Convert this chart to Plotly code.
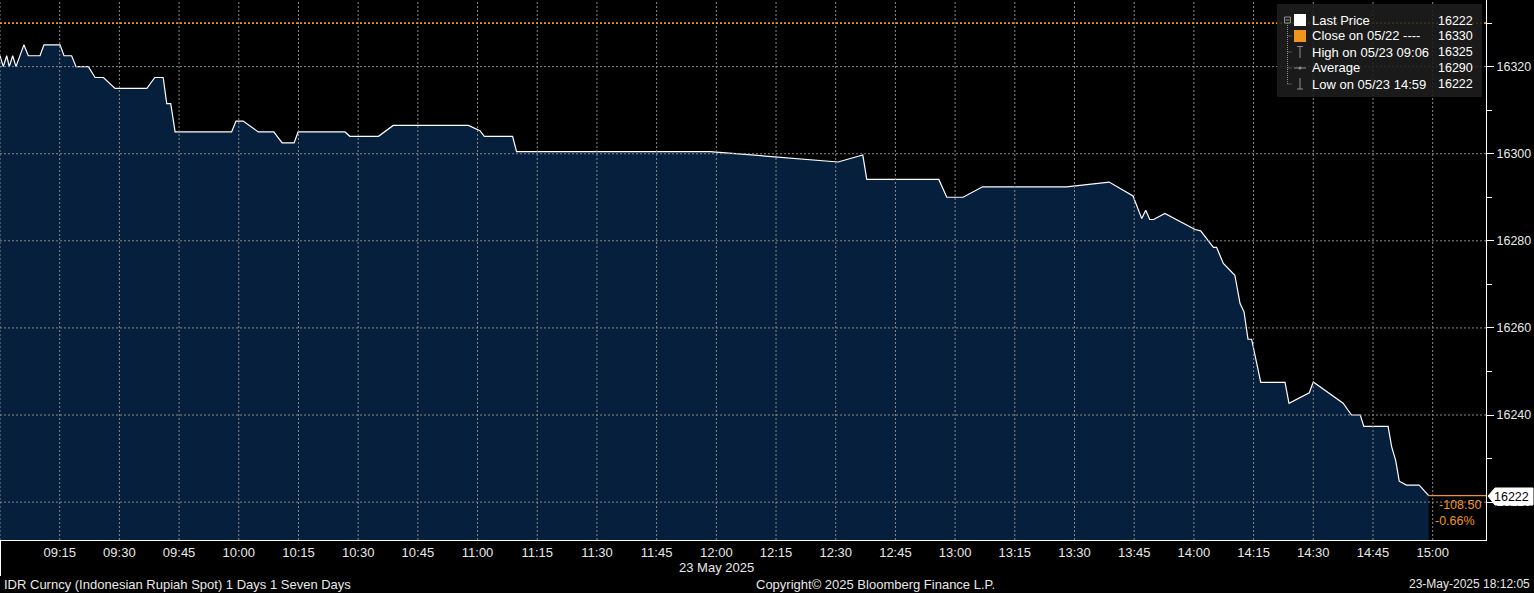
import plotly.graph_objects as go

# ---------------- data ----------------
DAY = "2025-05-23"
times = [
    "09:00:00", "09:00:50", "09:01:41", "09:02:20", "09:03:11", "09:04:01", "09:06:00", "09:07:07",
    "09:10:03", "09:11:03", "09:15:05", "09:16:05", "09:18:00", "09:19:06", "09:22:12", "09:23:54",
    "09:26:00", "09:28:54", "09:36:54", "09:38:54", "09:41:00", "09:41:54", "09:42:54", "09:44:00",
    "09:58:12", "09:59:18", "10:01:06", "10:04:54", "10:08:48", "10:10:54", "10:13:54", "10:14:54",
    "10:26:42", "10:27:54", "10:35:06", "10:38:48", "10:57:42", "11:00:36", "11:01:42", "11:08:48",
    "11:09:48", "11:58:24", "12:30:36", "12:36:48", "12:37:48", "12:55:54", "12:57:54", "13:02:00",
    "13:06:54", "13:28:00", "13:38:42", "13:44:42", "13:46:54", "13:47:54", "13:48:54", "13:49:54",
    "13:52:42", "14:00:18", "14:01:42", "14:04:54", "14:05:42", "14:07:24", "14:10:18", "14:11:36",
    "14:12:36", "14:13:36", "14:14:30", "14:16:48", "14:22:54", "14:23:54", "14:29:00", "14:30:00",
    "14:37:30", "14:39:36", "14:41:48", "14:42:42", "14:48:48", "14:49:42", "14:50:42", "14:51:36",
    "14:53:24", "14:56:36", "14:59:00",
]
prices = [
    16322.5, 16320.0, 16322.5, 16320.0, 16322.5, 16320.0, 16325.0, 16322.5,
    16322.5, 16325.0, 16325.0, 16322.5, 16322.5, 16320.0, 16320.0, 16317.5,
    16317.5, 16315.0, 16315.0, 16317.5, 16317.5, 16311.5, 16311.5, 16305.0,
    16305.0, 16307.5, 16307.5, 16305.0, 16305.0, 16302.5, 16302.5, 16305.0,
    16305.0, 16304.0, 16304.0, 16306.5, 16306.5, 16305.3, 16304.0, 16304.0,
    16300.5, 16300.5, 16298.1, 16299.7, 16294.1, 16294.1, 16290.0, 16290.0,
    16292.4, 16292.4, 16293.5, 16290.3, 16285.1, 16287.0, 16284.9, 16284.9,
    16286.3, 16282.6, 16282.3, 16278.5, 16278.5, 16274.8, 16272.1, 16265.6,
    16263.7, 16257.4, 16257.4, 16247.5, 16247.5, 16242.7, 16245.1, 16247.6,
    16242.7, 16240.0, 16240.0, 16237.4, 16237.4, 16232.7, 16229.6, 16224.8,
    16223.9, 16223.9, 16221.5,
]
prev_close = 16330.0
x_tick_times = ["09:00", "09:15", "09:30", "09:45", "10:00", "10:15", "10:30", "10:45", "11:00",
                "11:15", "11:30", "11:45", "12:00", "12:15", "12:30", "12:45", "13:00", "13:15",
                "13:30", "13:45", "14:00", "14:15", "14:30", "14:45", "15:00"]
y_ticks = [16220, 16240, 16260, 16280, 16300, 16320]
legend_labels = ["Last Price", "Close on 05/22 ----", "High on 05/23 09:06", "Average", "Low on 05/23 14:59"]
legend_values = ["16222", "16330", "16325", "16290", "16222"]
date_label = "23 May 2025"
footer_left = "IDR Curncy (Indonesian Rupiah Spot) 1 Days 1 Seven Days"
footer_mid = "Copyright\u00a9 2025 Bloomberg Finance L.P."
footer_right = "23-May-2025 18:12:05"

# ---------------- layout geometry ----------------
W, H = 1534, 593
ML, MR, MT, MB = 0, 48, 0, 53
PW, PH = W - ML - MR, H - MT - MB


def px(x):
    return (x - ML) / PW


def py(y):
    return 1 - (y - MT) / PH


FONT = "Liberation Sans"
WHITE = "#e8e8e8"
ORANGE = "#f0961e"
GRID = "#8a8a8a"
FILL = "#061f3d"

xs = [f"{DAY} {t}" for t in times]
x_range = [f"{DAY} 09:00:00", f"{DAY} 15:13:24"]
y_range = [16211.3, 16335.3]

fig = go.Figure()
fig.add_trace(go.Scatter(
    x=xs, y=prices, mode="lines", fill="tozeroy", fillcolor=FILL,
    line=dict(color="white", width=1.2), hoverinfo="skip", showlegend=False,
))

shapes = []
# grid (drawn above the fill)
for t in x_tick_times:
    shapes.append(dict(type="line", xref="x", yref="paper", x0=f"{DAY} {t}", x1=f"{DAY} {t}",
                       y0=0, y1=1, line=dict(color=GRID, width=1, dash="2px,2px"), layer="above"))
for v in y_ticks:
    shapes.append(dict(type="line", xref="paper", yref="y", x0=0, x1=1, y0=v, y1=v,
                       line=dict(color=GRID, width=1, dash="2px,2px"), layer="above"))
# previous close line
shapes.append(dict(type="line", xref="paper", yref="y", x0=0, x1=1, y0=prev_close, y1=prev_close,
                   line=dict(color=ORANGE, width=1.8, dash="2px,2px"), layer="above"))
# last price orange marker line
shapes.append(dict(type="line", xref="x", yref="y", x0=xs[-1], x1=x_range[1],
                   y0=prices[-1], y1=prices[-1], line=dict(color=ORANGE, width=1.2), layer="above"))
# left separator below axis
shapes.append(dict(type="line", xref="paper", yref="paper", x0=px(0.5), x1=px(0.5),
                   y0=py(540), y1=py(576), line=dict(color="white", width=1)))

# legend box
shapes.append(dict(type="rect", xref="paper", yref="paper", x0=px(1277), x1=px(1482),
                   y0=py(97), y1=py(4), fillcolor="rgba(30,30,30,0.88)", line=dict(width=0),
                   layer="above"))
TREE = "#8c8c8c"
# tree collapse box
shapes.append(dict(type="rect", xref="paper", yref="paper", x0=px(1284.5), x1=px(1290.5),
                   y0=py(23), y1=py(17), line=dict(color=TREE, width=1), layer="above"))
shapes.append(dict(type="line", xref="paper", yref="paper", x0=px(1285.5), x1=px(1289.5),
                   y0=py(20), y1=py(20), line=dict(color=TREE, width=1), layer="above"))
shapes.append(dict(type="line", xref="paper", yref="paper", x0=px(1287.5), x1=px(1287.5),
                   y0=py(23), y1=py(85), line=dict(color=TREE, width=1, dash="1px,1px"), layer="above"))
for yy in [36, 52, 68, 84]:
    shapes.append(dict(type="line", xref="paper", yref="paper", x0=px(1287.5), x1=px(1292),
                       y0=py(yy), y1=py(yy), line=dict(color=TREE, width=1, dash="1px,1px"),
                       layer="above"))
# icons
shapes.append(dict(type="rect", xref="paper", yref="paper", x0=px(1294), x1=px(1306),
                   y0=py(26), y1=py(14), fillcolor="white", line=dict(width=0), layer="above"))
shapes.append(dict(type="rect", xref="paper", yref="paper", x0=px(1294), x1=px(1306),
                   y0=py(42), y1=py(30), fillcolor=ORANGE, line=dict(width=0), layer="above"))
# high icon (T)
shapes.append(dict(type="line", xref="paper", yref="paper", x0=px(1297), x1=px(1303),
                   y0=py(46.5), y1=py(46.5), line=dict(color=TREE, width=1), layer="above"))
shapes.append(dict(type="line", xref="paper", yref="paper", x0=px(1300), x1=px(1300),
                   y0=py(46.5), y1=py(58), line=dict(color=TREE, width=1), layer="above"))
# average icon
shapes.append(dict(type="line", xref="paper", yref="paper", x0=px(1294), x1=px(1306),
                   y0=py(68), y1=py(68), line=dict(color=TREE, width=1), layer="above"))
shapes.append(dict(type="circle", xref="paper", yref="paper", x0=px(1298.5), x1=px(1301.5),
                   y0=py(69.5), y1=py(66.5), fillcolor=TREE, line=dict(width=0), layer="above"))
# low icon (inverted T)
shapes.append(dict(type="line", xref="paper", yref="paper", x0=px(1300), x1=px(1300),
                   y0=py(78), y1=py(89), line=dict(color=TREE, width=1), layer="above"))
shapes.append(dict(type="line", xref="paper", yref="paper", x0=px(1297), x1=px(1303),
                   y0=py(89), y1=py(89), line=dict(color=TREE, width=1), layer="above"))

# last price tag (pointer box)
tag = [(1488, 496), (1495, 488), (1533, 488), (1533, 505), (1495, 505)]
path = "M " + " L ".join(f"{px(a):.5f},{py(b):.5f}" for a, b in tag) + " Z"
shapes.append(dict(type="path", xref="paper", yref="paper", path=path, fillcolor="white",
                   line=dict(color="white", width=1), layer="above"))

annotations = []
row_y = [20.5, 36, 52, 68, 84]
for lab, val, yy in zip(legend_labels, legend_values, row_y):
    annotations.append(dict(xref="paper", yref="paper", x=px(1310), y=py(yy), text=lab,
                            showarrow=False, xanchor="left", yanchor="middle",
                            font=dict(family=FONT, size=13, color="white")))
    annotations.append(dict(xref="paper", yref="paper", x=px(1475), y=py(yy), text=val,
                            showarrow=False, xanchor="right", yanchor="middle",
                            font=dict(family=FONT, size=12.5, color="white")))

chg = prices[-1] - prev_close
pct = chg / prev_close * 100
annotations.append(dict(xref="paper", yref="paper", x=px(1483), y=py(505), text=f"{chg:.2f}",
                        showarrow=False, xanchor="right", yanchor="middle",
                        font=dict(family=FONT, size=12.5, color=ORANGE)))
annotations.append(dict(xref="paper", yref="paper", x=px(1477), y=py(521), text=f"{pct:.2f}%",
                        showarrow=False, xanchor="right", yanchor="middle",
                        font=dict(family=FONT, size=12.5, color=ORANGE)))
annotations.append(dict(xref="paper", yref="paper", x=px(1531), y=py(496.5),
                        text=f"{round(prices[-1])}", showarrow=False, xanchor="right",
                        yanchor="middle", font=dict(family=FONT, size=12.5, color="black")))
annotations.append(dict(xref="x", yref="paper", x=f"{DAY} 12:00", y=py(567), text=date_label,
                        showarrow=False, xanchor="center", yanchor="middle",
                        font=dict(family=FONT, size=13, color=WHITE)))
annotations.append(dict(xref="paper", yref="paper", x=px(2), y=py(584), text=footer_left,
                        showarrow=False, xanchor="left", yanchor="middle",
                        font=dict(family=FONT, size=13, color=WHITE)))
annotations.append(dict(xref="paper", yref="paper", x=px(875), y=py(584), text=footer_mid,
                        showarrow=False, xanchor="center", yanchor="middle",
                        font=dict(family=FONT, size=13, color=WHITE)))
annotations.append(dict(xref="paper", yref="paper", x=px(1532), y=py(584), text=footer_right,
                        showarrow=False, xanchor="right", yanchor="middle",
                        font=dict(family=FONT, size=12, color=WHITE)))

fig.update_layout(
    width=W, height=H,
    margin=dict(l=ML, r=MR, t=MT, b=MB, pad=0),
    paper_bgcolor="black", plot_bgcolor="black",
    showlegend=False, hovermode=False,
    font=dict(family=FONT, size=12, color=WHITE),
    shapes=shapes, annotations=annotations,
    xaxis=dict(
        type="date", range=x_range, showgrid=False, zeroline=False,
        tickvals=[f"{DAY} {t}" for t in x_tick_times],
        ticktext=["" if t == "09:00" else t for t in x_tick_times],
        ticks="", showline=True, linecolor="white", linewidth=1,
        tickfont=dict(family=FONT, size=13, color=WHITE),
    ),
    yaxis=dict(
        side="right", range=y_range, showgrid=False, zeroline=False,
        tickvals=y_ticks, ticktext=[str(v) for v in y_ticks],
        ticks="outside", ticklen=7, tickwidth=1, tickcolor="white",
        showline=True, linecolor="white", linewidth=1,
        tickfont=dict(family=FONT, size=12.5, color=WHITE),
        minor=dict(tickvals=[16230, 16250, 16270, 16290, 16310, 16330], ticks="outside",
                   ticklen=5, tickcolor="white", tickwidth=1, showgrid=False),
    ),
)

fig.write_html(
    "out.html",
    config={"displayModeBar": False},
    post_script="document.body.style.margin='0';document.body.style.padding='0';"
                "document.body.style.overflow='hidden';document.body.style.background='black';",
)
